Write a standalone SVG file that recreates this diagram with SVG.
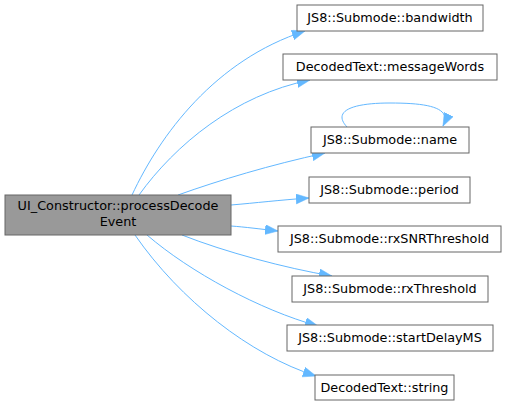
<svg xmlns="http://www.w3.org/2000/svg" width="507" height="405" viewBox="0 0 507 405">
<style>
.n rect{fill:#ffffff;stroke:#666666;stroke-width:1}
.n.main rect{fill:#999999}
.n text{font-family:"DejaVu Sans",sans-serif;font-size:12.8px;fill:#000000;text-anchor:middle}
.e path{fill:none;stroke:#63b8ff;stroke-width:1;marker-end:url(#ah)}
</style>
<defs>
<marker id="ah" markerUnits="userSpaceOnUse" markerWidth="14" markerHeight="11" refX="13" refY="5" orient="auto">
<path d="M0,0 L13,5 L0,10 z" fill="#63b8ff" stroke="#63b8ff" stroke-width="0.5"/>
</marker>
</defs>
<g id="edges" class="e">
<path d="M132,195 C160,135 215,60 305,31"/>
<path d="M139,195 C175,145 235,95 310,80"/>
<path d="M178,195 C220,180 270,165 325,153"/>
<path d="M231,205 C255,203 280,200 309,198"/>
<path d="M231,226 C245,227 260,229 278,231"/>
<path d="M182,235 C225,252 285,268 332,276"/>
<path d="M147,235 C190,272 260,310 318,326"/>
<path d="M135,235 C180,300 250,355 316,376"/>
<path d="M347,127 C332,111 352,103 390,103 C430,103 452,108 443,126"/>
</g>
<g id="main" class="n main">
<rect x="5" y="195" width="226" height="40"/>
<text x="118" y="210">UI_Constructor::processDecode</text>
<text x="118" y="226">Event</text>
</g>
<g id="bandwidth" class="n">
<rect x="297" y="5" width="186" height="26"/>
<text x="390" y="22">JS8::Submode::bandwidth</text>
</g>
<g id="messageWords" class="n">
<rect x="283" y="54" width="214" height="26"/>
<text x="390" y="71">DecodedText::messageWords</text>
</g>
<g id="name" class="n">
<rect x="311" y="127" width="158" height="26"/>
<text x="390" y="144">JS8::Submode::name</text>
</g>
<g id="period" class="n">
<rect x="309" y="177" width="161" height="26"/>
<text x="389.5" y="194">JS8::Submode::period</text>
</g>
<g id="rxSNRThreshold" class="n">
<rect x="278" y="226" width="223" height="26"/>
<text x="389.5" y="243">JS8::Submode::rxSNRThreshold</text>
</g>
<g id="rxThreshold" class="n">
<rect x="292" y="276" width="196" height="26"/>
<text x="390" y="293">JS8::Submode::rxThreshold</text>
</g>
<g id="startDelayMS" class="n">
<rect x="287" y="325" width="206" height="26"/>
<text x="390" y="342">JS8::Submode::startDelayMS</text>
</g>
<g id="string" class="n">
<rect x="315" y="375" width="139" height="25"/>
<text x="384.5" y="392">DecodedText::string</text>
</g>
</svg>
